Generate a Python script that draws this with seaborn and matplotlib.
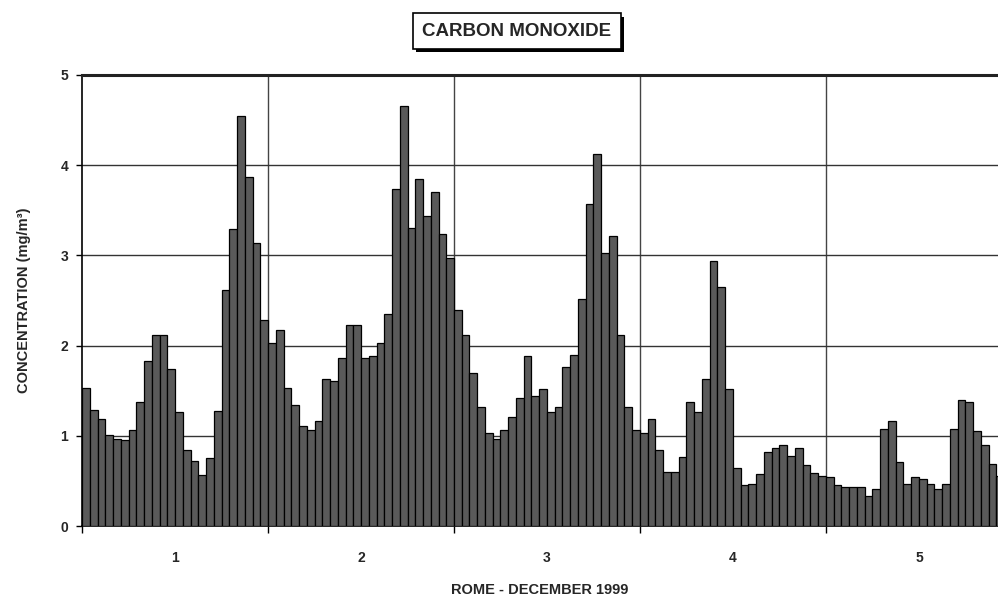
import numpy as np
import pandas as pd
import matplotlib
matplotlib.use("Agg")
import matplotlib.pyplot as plt
import matplotlib.patheffects as pe
import seaborn as sns

# hourly CO concentration (mg/m3), Rome, December 1999 - five days, last hour cut by the frame
day1 = [1.53, 1.29, 1.19, 1.01, 0.96, 0.95, 1.06, 1.37, 1.83, 2.12, 2.12, 1.74,
        1.26, 0.84, 0.72, 0.56, 0.75, 1.27, 2.62, 3.29, 4.55, 3.87, 3.14, 2.28]
day2 = [2.03, 2.17, 1.53, 1.34, 1.11, 1.06, 1.16, 1.63, 1.61, 1.86, 2.23, 2.23,
        1.86, 1.88, 2.03, 2.35, 3.74, 4.66, 3.30, 3.85, 3.44, 3.70, 3.24, 2.97]
day3 = [2.39, 2.12, 1.70, 1.32, 1.03, 0.97, 1.06, 1.21, 1.42, 1.88, 1.44, 1.52,
        1.26, 1.32, 1.76, 1.90, 2.52, 3.57, 4.12, 3.03, 3.21, 2.12, 1.32, 1.06]
day4 = [1.03, 1.19, 0.84, 0.60, 0.60, 0.76, 1.37, 1.26, 1.63, 2.94, 2.65, 1.52,
        0.64, 0.46, 0.47, 0.58, 0.82, 0.87, 0.90, 0.78, 0.87, 0.68, 0.59, 0.55]
day5 = [0.54, 0.45, 0.43, 0.43, 0.43, 0.33, 0.41, 1.08, 1.16, 0.71, 0.47, 0.54,
        0.52, 0.47, 0.41, 0.47, 1.08, 1.40, 1.37, 1.05, 0.90, 0.69, 0.55]
day_labels = ["1", "2", "3", "4", "5"]
y_ticks = [0, 1, 2, 3, 4, 5]

values = day1 + day2 + day3 + day4 + day5
df = pd.DataFrame({"hour": np.arange(len(values)), "co": values})

sns.set_theme(style="white")
plt.rcParams["font.family"] = ["Liberation Sans", "DejaVu Sans"]

fig = plt.figure(figsize=(9.98, 5.98), dpi=100)
ax = fig.add_axes([0.0822, 0.1204, 0.9178, 0.7542])

sns.barplot(data=df, x="hour", y="co", width=1.0, color="#5a5a5a", saturation=1,
            edgecolor="black", linewidth=0.9, ax=ax, zorder=3)

ax.set_ylim(0, 5)
ax.set_xlim(-0.5, 117.7)
ax.set_yticks(y_ticks)
ax.set_yticklabels([str(v) for v in y_ticks], fontweight="bold", fontsize=10)

bounds = [24 * i - 0.5 for i in range(len(day_labels))]
mids = [24 * i + 11.5 for i in range(len(day_labels))]
ax.set_xticks(bounds)
ax.set_xticklabels([""] * len(bounds))
ax.set_xticks(mids, minor=True)
ax.set_xticklabels(day_labels, minor=True, fontweight="bold", fontsize=10)
ax.tick_params(axis="x", which="major", length=5, width=1, color="black", direction="out", bottom=True)
ax.tick_params(axis="x", which="minor", length=0, pad=18)
ax.tick_params(axis="y", length=4, width=1, color="black", direction="out", left=True, pad=6)

for b in bounds[1:]:
    ax.axvline(b, color="#444444", lw=1.0, zorder=1)
for v in y_ticks[1:-1]:
    ax.axhline(v, color="#333333", lw=1.0, zorder=1)

for side in ["left", "bottom"]:
    ax.spines[side].set_color("black")
    ax.spines[side].set_linewidth(1.2)
ax.spines["top"].set_color("#222222")
ax.spines["top"].set_linewidth(2.2)
ax.spines["right"].set_visible(False)

ax.set_xlabel("ROME - DECEMBER 1999", fontweight="bold", fontsize=10.5, labelpad=13)
ax.set_ylabel("CONCENTRATION (mg/m³)", fontweight="bold", fontsize=10.5, labelpad=21)

t = fig.text(0.518, 0.948, "CARBON MONOXIDE", ha="center", va="center",
             fontweight="bold", fontsize=13.5,
             bbox=dict(boxstyle="square,pad=0.5", facecolor="white", edgecolor="black", linewidth=1.2))
t.get_bbox_patch().set_path_effects([
    pe.SimplePatchShadow(offset=(2.5, -2.5), shadow_rgbFace="black", alpha=1.0),
    pe.Normal(),
])

fig.savefig("out.png", dpi=100)
